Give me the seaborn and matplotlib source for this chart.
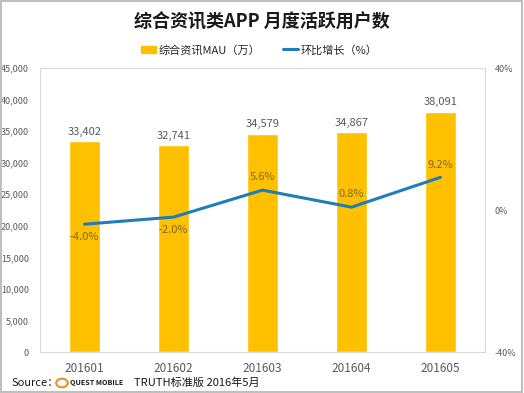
import matplotlib
matplotlib.use("Agg")
import matplotlib.pyplot as plt
import seaborn as sns
import numpy as np
import pandas as pd
from matplotlib.patches import Rectangle, Circle
from matplotlib.lines import Line2D
from matplotlib.ticker import FuncFormatter

months = ["201601", "201602", "201603", "201604", "201605"]
mau = [33402, 32741, 34579, 34867, 38091]
growth = [-4.0, -2.0, 5.6, 0.8, 9.2]
growth_label_above = [False, False, True, True, True]

title = "综合资讯类APP 月度活跃用户数"
bar_name = "综合资讯MAU（万）"
line_name = "环比增长（%）"
source_text = "Source："

sns.set_theme(style="white")
plt.rcParams['font.family'] = ['Noto Sans CJK SC', 'DejaVu Sans']

BAR = "#FFC000"
LINE = "#1F7DB8"
GRAY = "#595959"
LBL = "#7F6A2A"

fig = plt.figure(figsize=(5.24, 3.93), dpi=100)
ax = fig.add_axes([40/524, 1-352/393, 445/524, 284/393])

df = pd.DataFrame({"month": months, "mau": mau})
sns.barplot(data=df, x="month", y="mau", color=BAR, width=0.34, ax=ax, saturation=1)
ax.set_ylim(0, 45000)
ax.set_yticks(np.arange(0, 45001, 5000))
ax.yaxis.set_major_formatter(FuncFormatter(lambda v, p: f"{int(v):,}"))
ax.set_xlabel("")
ax.set_ylabel("")
ax.set_xlim(-0.5, len(months) - 0.5)
ax.tick_params(axis="y", labelsize=6.5, colors=GRAY, length=0, pad=8)
ax.tick_params(axis="x", labelsize=8.5, colors=GRAY, length=0, pad=7)
for s in ax.spines.values():
    s.set_color("#D9D9D9")
    s.set_linewidth(0.8)

for i, v in enumerate(mau):
    ax.text(i, v + 700, f"{v:,}", ha="center", va="bottom", fontsize=8, color=GRAY)

ax2 = ax.twinx()
sns.lineplot(x=np.arange(len(months)), y=growth, ax=ax2, color=LINE, linewidth=2.2)
ax2.set_ylim(-40, 40)
ax2.set_yticks([-40, 0, 40])
ax2.yaxis.set_major_formatter(FuncFormatter(lambda v, p: f"{int(v)}%"))
ax2.tick_params(axis="y", labelsize=6.5, colors=GRAY, length=0, pad=7)
for s in ax2.spines.values():
    s.set_visible(False)
ax2.set_xlim(-0.5, len(months) - 0.5)

for i, (g, up) in enumerate(zip(growth, growth_label_above)):
    if up:
        ax2.text(i, g + 2.2, f"{g:.1f}%", ha="center", va="bottom", fontsize=8, color=LBL)
    else:
        ax2.text(i, g - 2.2, f"{g:.1f}%", ha="center", va="top", fontsize=8, color=LBL)

fig.text(0.5, 1-22/393, title, ha="center", va="center", fontsize=13, fontweight="bold", color="#1A1A1A")

handles = [Rectangle((0, 0), 1, 1, color=BAR), Line2D([0], [0], color=LINE, linewidth=2.2)]
fig.legend(handles, [bar_name, line_name], loc="center", bbox_to_anchor=(259/524, 1-50/393),
           ncol=2, frameon=False, fontsize=8, handlelength=1.4, handletextpad=0.2,
           columnspacing=2.0, labelcolor="#262626")

fig.text(12/524, 1-383/393, source_text, ha="left", va="center", fontsize=8, color="#1A1A1A")
fig.patches.append(Circle((62/524, 1-383/393), 0.011, transform=fig.transFigure,
                          facecolor="white", edgecolor="#F08C1E", linewidth=1.5))
fig.text(70/524, 1-383/393, "QUEST MOBILE", ha="left", va="center", fontsize=5.2, fontweight="bold", color="#1A1A1A")
fig.text(134/524, 1-383/393, "TRUTH标准版 2016年5月", ha="left", va="center", fontsize=8, color="#1A1A1A")

fig.patches.append(Rectangle((0.002, 0.003), 0.995, 0.994, transform=fig.transFigure,
                             fill=False, edgecolor="#BFBFBF", linewidth=1.5))

fig.savefig("out.png", dpi=100)
